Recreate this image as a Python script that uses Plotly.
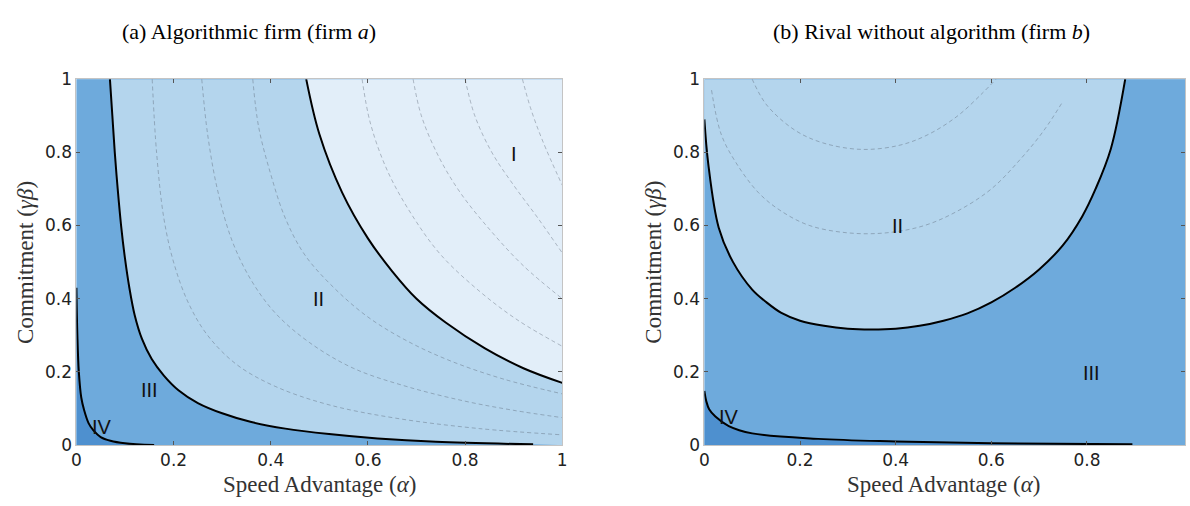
import plotly.graph_objects as go

W, H = 1190, 506

# ---- firm a : region boundaries (alpha, gamma*beta) ----
a_iv_x = [0.0, 0.002, 0.005, 0.01, 0.016, 0.025, 0.035, 0.05, 0.07, 0.1, 0.16]
a_iv_y = [0.43, 0.30, 0.20, 0.13, 0.095, 0.06, 0.04, 0.022, 0.012, 0.005, 0.0]

a_iii_x = [0.069, 0.074, 0.079, 0.085, 0.092, 0.10, 0.109, 0.12, 0.135, 0.155, 0.18,
           0.21, 0.25, 0.30, 0.36, 0.43, 0.52, 0.62, 0.74, 0.94]
a_iii_y = [1.0, 0.9, 0.8, 0.7, 0.6, 0.51, 0.43, 0.355, 0.29, 0.235, 0.19,
           0.15, 0.115, 0.087, 0.063, 0.045, 0.03, 0.018, 0.009, 0.002]

a_ii_x = [0.473, 0.50, 0.547, 0.60, 0.65, 0.70, 0.76, 0.84, 0.92, 1.0]
a_ii_y = [1.0, 0.85, 0.69, 0.565, 0.475, 0.40, 0.335, 0.265, 0.21, 0.17]

# firm a : iso-profit contours
a_cont = [
    ([0.156, 0.165, 0.18, 0.20, 0.23, 0.27, 0.33, 0.41, 0.52, 0.66, 0.83, 1.0],
     [1.0, 0.8, 0.62, 0.5, 0.39, 0.30, 0.22, 0.16, 0.11, 0.073, 0.045, 0.028]),
    ([0.258, 0.27, 0.29, 0.32, 0.36, 0.41, 0.48, 0.57, 0.68, 0.80, 0.90, 1.0],
     [1.0, 0.85, 0.70, 0.56, 0.45, 0.36, 0.28, 0.21, 0.16, 0.12, 0.095, 0.075]),
    ([0.363, 0.375, 0.40, 0.43, 0.47, 0.53, 0.60, 0.68, 0.77, 0.88, 1.0],
     [1.0, 0.87, 0.74, 0.62, 0.52, 0.43, 0.35, 0.285, 0.23, 0.18, 0.14]),
    ([0.588, 0.605, 0.64, 0.69, 0.75, 0.83, 0.91, 1.0],
     [1.0, 0.88, 0.75, 0.63, 0.52, 0.42, 0.34, 0.27]),
    ([0.693, 0.71, 0.745, 0.79, 0.85, 0.92, 1.0],
     [1.0, 0.9, 0.79, 0.69, 0.59, 0.49, 0.40]),
    ([0.80, 0.82, 0.855, 0.90, 0.95, 1.0],
     [1.0, 0.9, 0.8, 0.71, 0.62, 0.525]),
    ([0.918, 0.935, 0.96, 1.0],
     [1.0, 0.92, 0.83, 0.71]),
]

# ---- firm b : region boundaries ----
b_iv_x = [0.0, 0.004, 0.01, 0.023, 0.051, 0.10, 0.238, 0.40, 0.60, 0.895]
b_iv_y = [0.148, 0.12, 0.098, 0.078, 0.052, 0.032, 0.017, 0.01, 0.005, 0.002]

b_ii_x = [0.0, 0.008, 0.03, 0.06, 0.10, 0.13, 0.16, 0.20, 0.25, 0.30, 0.348, 0.40,
          0.45, 0.50, 0.55, 0.60, 0.65, 0.70, 0.749, 0.79, 0.818, 0.85, 0.88]
b_ii_y = [0.89, 0.77, 0.594, 0.50, 0.425, 0.39, 0.362, 0.34, 0.326, 0.318, 0.316, 0.318,
          0.326, 0.34, 0.36, 0.39, 0.43, 0.48, 0.545, 0.625, 0.70, 0.81, 1.0]

b_cont = [
    ([0.015, 0.035, 0.065, 0.113, 0.16, 0.22, 0.30, 0.38, 0.46, 0.53, 0.60, 0.66, 0.71, 0.75],
     [0.97, 0.85, 0.774, 0.69, 0.64, 0.60, 0.58, 0.58, 0.60, 0.64, 0.70, 0.78, 0.86, 0.94]),
    ([0.10, 0.13, 0.19, 0.25, 0.33, 0.41, 0.47, 0.53, 0.58, 0.61],
     [1.0, 0.93, 0.86, 0.825, 0.808, 0.82, 0.85, 0.90, 0.96, 1.0]),
]

# region labels (text, alpha, gamma*beta)
a_labels = [("I", 0.90, 0.795), ("II", 0.498, 0.40), ("III", 0.151, 0.15), ("IV", 0.052, 0.05)]
b_labels = [("II", 0.403, 0.598), ("III", 0.81, 0.197), ("IV", 0.051, 0.076)]

tick_vals = [0, 0.2, 0.4, 0.6, 0.8, 1]
tick_text = ["0", "0.2", "0.4", "0.6", "0.8", "1"]

C_I = "#e2eef9"
C_II = "#b4d5ed"
C_III = "#6eaadc"
C_IV = "#4e90cf"
C_CONT = "rgba(85,95,110,0.4)"

fig = go.Figure()


def boundary(x, y, xa, ya, fill=None, fillcolor=None):
    fig.add_trace(go.Scatter(
        x=x, y=y, xaxis=xa, yaxis=ya, mode="lines",
        line=dict(color="black", width=2, shape="spline", smoothing=1.0),
        fill=fill if fill else "none", fillcolor=fillcolor,
        hoverinfo="skip", showlegend=False))


def helper(x, y, xa, ya):
    fig.add_trace(go.Scatter(
        x=x, y=y, xaxis=xa, yaxis=ya, mode="lines",
        line=dict(width=0, color="rgba(0,0,0,0)"),
        hoverinfo="skip", showlegend=False))


def contour(x, y, xa, ya):
    fig.add_trace(go.Scatter(
        x=x, y=y, xaxis=xa, yaxis=ya, mode="lines",
        line=dict(color=C_CONT, width=1, dash="4px,3px", shape="spline", smoothing=1.0),
        hoverinfo="skip", showlegend=False))


# left panel: regions IV, II and I drawn over region III background
boundary(a_iv_x, a_iv_y, "x", "y", "tozeroy", C_IV)
helper([a_iii_x[0], 1.0, 1.0], [1.0, 1.0, 0.0], "x", "y")
boundary(a_iii_x, a_iii_y, "x", "y", "tonexty", C_II)
helper([a_ii_x[0], 1.0, 1.0], [1.0, 1.0, a_ii_y[-1]], "x", "y")
boundary(a_ii_x, a_ii_y, "x", "y", "tonexty", C_I)
for cx, cy in a_cont:
    contour(cx, cy, "x", "y")

# right panel
boundary(b_iv_x, b_iv_y, "x2", "y2", "tozeroy", C_IV)
helper([0.0, 0.0, b_ii_x[-1]], [b_ii_y[0], 1.0, 1.0], "x2", "y2")
boundary(b_ii_x, b_ii_y, "x2", "y2", "tonexty", C_II)
for cx, cy in b_cont:
    contour(cx, cy, "x2", "y2")


def px_x(p):
    return p / W


def px_y(p):
    return 1 - p / H


axis_common = dict(
    showgrid=False, zeroline=False, showline=True, linecolor="#c4c4c4", linewidth=1,
    mirror="ticks", ticks="inside", ticklen=4, tickcolor="#555555", tickwidth=1,
    tickfont=dict(family="DejaVu Sans", size=17, color="#222222"),
    fixedrange=True,
)

fig.update_layout(
    width=W, height=H, margin=dict(l=0, r=0, t=0, b=0),
    paper_bgcolor="white", plot_bgcolor=C_III,
    xaxis=dict(domain=[px_x(72), px_x(562)], range=[0, 1], tickvals=tick_vals,
               ticktext=tick_text, anchor="y", **axis_common),
    yaxis=dict(domain=[px_y(453), px_y(72)], range=[0, 1], tickvals=tick_vals,
               ticktext=tick_text, anchor="x", **axis_common),
    xaxis2=dict(domain=[px_x(705.3), 1.0], range=[0, 1.005], tickvals=tick_vals[:-1],
                ticktext=tick_text[:-1], anchor="y2", **axis_common),
    yaxis2=dict(domain=[px_y(453), px_y(72)], range=[0, 1], tickvals=tick_vals,
                ticktext=tick_text, anchor="x2", **axis_common),
)

ann = []
serif = "Liberation Serif"
ann.append(dict(text="(a) Algorithmic firm (firm <i>a</i>)", x=px_x(246), y=px_y(22),
                xref="paper", yref="paper", showarrow=False, xanchor="center", yanchor="middle",
                font=dict(family=serif, size=22, color="black")))
ann.append(dict(text="(b) Rival without algorithm (firm <i>b</i>)", x=px_x(934), y=px_y(22),
                xref="paper", yref="paper", showarrow=False, xanchor="center", yanchor="middle",
                font=dict(family=serif, size=22, color="black")))
for cx in (317, 946.6):
    ann.append(dict(text="Speed Advantage (<i>α</i>)", x=px_x(cx), y=px_y(494),
                    xref="paper", yref="paper", showarrow=False, xanchor="center",
                    yanchor="middle", font=dict(family=serif, size=23, color="#333333")))
for cx in (20, 654):
    ann.append(dict(text="Commitment (<i>γβ</i>)", x=px_x(cx), y=px_y(262.5), textangle=-90,
                    xref="paper", yref="paper", showarrow=False, xanchor="center",
                    yanchor="middle", font=dict(family=serif, size=23, color="#333333")))
for t, lx, ly in a_labels:
    ann.append(dict(text=t, x=lx, y=ly, xref="x", yref="y", showarrow=False,
                    font=dict(family="Liberation Sans", size=20, color="#111111")))
for t, lx, ly in b_labels:
    ann.append(dict(text=t, x=lx, y=ly, xref="x2", yref="y2", showarrow=False,
                    font=dict(family="Liberation Sans", size=20, color="#111111")))
fig.update_layout(annotations=ann)

fig.write_html("out.html")
